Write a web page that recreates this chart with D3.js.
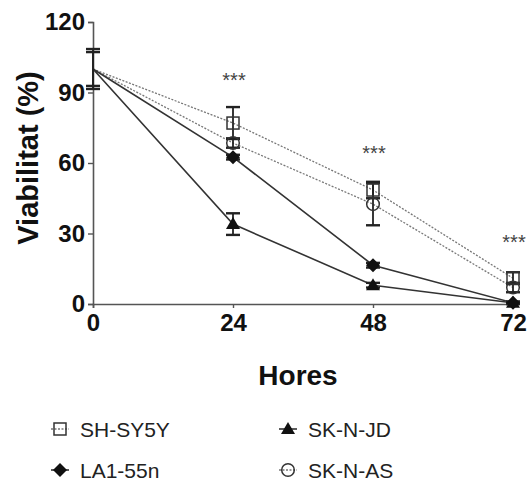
<!DOCTYPE html>
<html>
<head>
<meta charset="utf-8">
<script src="https://cdn.jsdelivr.net/npm/d3@7"></script>
<style>
  html, body { margin: 0; padding: 0; background: #fff; }
  svg { display: block; font-family: "Liberation Sans", Arial, Helvetica, sans-serif; }
</style>
</head>
<body>
<svg id="chart" width="528" height="484"></svg>
<script>
// Time points (hours)
const hours = [0, 24, 48, 72];

// Mean viability (%) per cell line
const shsy5y = [100, 77, 48.5, 11];
const sknjd  = [100, 34, 8, 0.5];
const la155n = [100, 62.5, 16.5, 0.5];
const sknas  = [100, 68.5, 42.5, 7];

// Standard deviations
const shsy5ySd = [7.2, 6.8, 3.5, 2.5];
const sknjdSd  = [8.5, 4.6, 1, 0.5];
const la155nSd = [0, 1, 1, 0.5];
const sknasSd  = [0, 2, 9, 2];

// Significance marks
const sigHours = [24, 48, 72];
const sigY = [97, 66, 28];
const sigText = "***";

const yTicks = [0, 30, 60, 90, 120];
const xTicks = [0, 24, 48, 72];

const series = [
  { name: "SH-SY5Y", values: shsy5y, sd: shsy5ySd, symbol: "square",   dotted: true },
  { name: "SK-N-AS", values: sknas,  sd: sknasSd,  symbol: "circle",   dotted: true },
  { name: "LA1-55n", values: la155n, sd: la155nSd, symbol: "diamond",  dotted: false },
  { name: "SK-N-JD", values: sknjd,  sd: sknjdSd,  symbol: "triangle", dotted: false }
];

const svg = d3.select("#chart");
const x = d3.scaleLinear().domain([0, 72]).range([93, 513]);
const y = d3.scaleLinear().domain([0, 120]).range([304, 22]);

// Axes
const yAxis = svg.append("g").attr("transform", "translate(93,0)")
  .call(d3.axisLeft(y).tickValues(yTicks).tickSize(5).tickPadding(3));
const xAxis = svg.append("g").attr("transform", "translate(0,304)")
  .call(d3.axisBottom(x).tickValues(xTicks).tickSize(4).tickPadding(6));
[yAxis, xAxis].forEach(a => {
  a.select(".domain").attr("stroke", "#555").attr("stroke-width", 1.6);
  a.selectAll(".tick line").attr("stroke", "#555").attr("stroke-width", 1.4);
  a.selectAll(".tick text").attr("fill", "#111").attr("font-size", 24)
    .attr("font-weight", "bold").attr("font-family", "Liberation Sans, Arial, sans-serif");
});
xAxis.selectAll(".tick text").attr("dy", "0.72em");

// Axis titles
svg.append("text")
  .attr("transform", "translate(38,158) rotate(-90)")
  .attr("text-anchor", "middle")
  .attr("font-size", 29).attr("font-weight", "bold").attr("fill", "#111")
  .text("Viabilitat (%)");
svg.append("text")
  .attr("x", 298).attr("y", 385)
  .attr("text-anchor", "middle")
  .attr("font-size", 28).attr("font-weight", "bold").attr("fill", "#111")
  .text("Hores");

// Lines
const line = d3.line().x((d, i) => x(hours[i])).y(d => y(d));
series.forEach(s => {
  svg.append("path")
    .datum(s.values)
    .attr("d", line)
    .attr("fill", "none")
    .attr("stroke", s.dotted ? "#777" : "#333")
    .attr("stroke-width", s.dotted ? 1.3 : 1.6)
    .attr("stroke-dasharray", s.dotted ? "2,1.5" : null);
});

// Error bars
const capW = 7;
series.forEach(s => {
  const g = svg.append("g").attr("stroke", "#222");
  s.values.forEach((v, i) => {
    const sd = s.sd[i];
    if (!sd) return;
    const cx = x(hours[i]);
    const y1 = y(v + sd), y0 = y(v - sd);
    g.append("line").attr("x1", cx).attr("x2", cx).attr("y1", y1).attr("y2", y0).attr("stroke-width", 1.8);
    g.append("line").attr("x1", cx - capW).attr("x2", cx + capW).attr("y1", y1).attr("y2", y1).attr("stroke-width", 2.4);
    g.append("line").attr("x1", cx - capW).attr("x2", cx + capW).attr("y1", y0).attr("y2", y0).attr("stroke-width", 2.4);
  });
});

// Markers (the shared 0 h starting point sits on the axis without a symbol)
function drawSymbol(g, kind, cx, cy) {
  if (kind === "square") {
    g.append("rect").attr("x", cx - 6).attr("y", cy - 6).attr("width", 12).attr("height", 12)
      .attr("fill", "none").attr("stroke", "#333").attr("stroke-width", 1.5);
  } else if (kind === "circle") {
    g.append("circle").attr("cx", cx).attr("cy", cy).attr("r", 6.3)
      .attr("fill", "none").attr("stroke", "#333").attr("stroke-width", 1.5);
  } else if (kind === "diamond") {
    g.append("path").attr("d", `M${cx},${cy - 7}L${cx + 7},${cy}L${cx},${cy + 7}L${cx - 7},${cy}Z`)
      .attr("fill", "#111");
  } else {
    g.append("path").attr("d", `M${cx},${cy - 7}L${cx + 7},${cy + 5}L${cx - 7},${cy + 5}Z`)
      .attr("fill", "#111");
  }
}
const markers = svg.append("g");
series.forEach(s => {
  s.values.forEach((v, i) => {
    if (hours[i] === 0) return;
    drawSymbol(markers, s.symbol, x(hours[i]), y(v));
  });
});

// Significance asterisks
svg.selectAll(".sig").data(sigHours).enter().append("text")
  .attr("class", "sig")
  .attr("x", d => x(d) + 1)
  .attr("y", (d, i) => y(sigY[i]) + 11)
  .attr("text-anchor", "middle")
  .attr("font-size", 20).attr("fill", "#444")
  .text(sigText);

// Legend
const legendItems = [
  { s: series[0], lx: 60, ly: 429 },
  { s: series[3], lx: 288, ly: 429 },
  { s: series[2], lx: 60, ly: 470 },
  { s: series[1], lx: 288, ly: 470 }
];
const legend = svg.append("g");
legendItems.forEach(item => {
  const s = item.s;
  legend.append("line")
    .attr("x1", item.lx - 9).attr("x2", item.lx + 9)
    .attr("y1", item.ly).attr("y2", item.ly)
    .attr("stroke", s.dotted ? "#777" : "#333")
    .attr("stroke-width", s.dotted ? 1.3 : 1.6)
    .attr("stroke-dasharray", s.dotted ? "2,1.5" : null);
  drawSymbol(legend, s.symbol, item.lx, item.ly);
  legend.append("text")
    .attr("x", item.lx + 20).attr("y", item.ly + 7.5)
    .attr("font-size", 21).attr("fill", "#222")
    .text(s.name);
});
</script>
</body>
</html>
